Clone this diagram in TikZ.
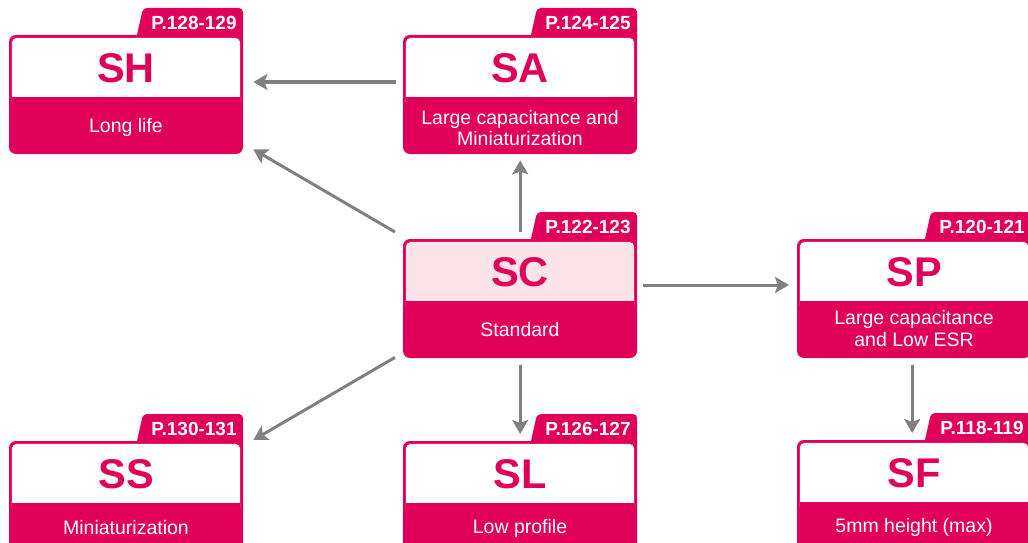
\documentclass[tikz,border=0pt]{standalone}
\usepackage{fontspec}
\setmainfont{Liberation Sans}
\usetikzlibrary{calc,arrows.meta}
\definecolor{mag}{RGB}{224,0,90}
\definecolor{pinkfill}{RGB}{252,228,234}
\definecolor{arrgray}{RGB}{128,128,128}
\newcommand\mystrut{\rule[-3pt]{0pt}{20pt}}
% #1 name, #2 X, #3 Y, #4 H, #5 title, #6 subtitle, #7 page, #8 fill, #9 subtitle shift
\newcommand\prodbox[9]{%
  \node[boxnode, minimum height=#4pt, anchor=north west] (#1) at (#2,#3) {};
  \fill[mag, rounded corners=4pt] (#2+125.8,#3+10) -- (#2+134,#3-27) -- (#2+234,#3-27) -- (#2+234,#3+12) -- cycle;
  \fill[mag, rounded corners=7pt] (#2,#3) rectangle (#2+234,#3+#4);
  \fill[#8, rounded corners=5pt] (#2+2.8,#3+2.8) rectangle (#2+231.2,#3+72);
  \fill[mag] (#2+2.8,#3+62) rectangle (#2+231.2,#3+76);
  \node[titletext] (#1-t) at (#2+117,#3+47) {#5};
  \node[subtext] (#1-s) at (#2+117,#3+31+#4/2+#9) {#6};
  \node[pagetext] (#1-p) at (#2+185,#3-12.5) {#7};
}
\begin{document}
\begin{tikzpicture}[x=1pt,y=-1pt,
  boxnode/.style={rectangle, minimum width=234pt, inner sep=0pt, draw=none},
  titletext/.style={anchor=base, inner sep=0pt, text=mag, font=\fontsize{41.5}{41.5}\selectfont\bfseries},
  subtext/.style={anchor=center, inner sep=0pt, text=white, align=center, font=\fontsize{19.5}{21.5}\selectfont},
  pagetext/.style={anchor=center, inner sep=0pt, text=white, font=\fontsize{19}{20}\selectfont\bfseries},
  arr/.style={draw=arrgray, line width=3pt, -{Stealth[length=14pt,width=16pt,inset=3pt]}}]
\useasboundingbox (0,0) rectangle (1028,543);
\clip (0,0) rectangle (1028,542);
\prodbox{SH}{9}{35}{119}{SH}{\mystrut Long life}{P.128-129}{white}{0.5}
\prodbox{SA}{403}{35}{119}{SA}{\mystrut Large capacitance and\\\mystrut Miniaturization}{P.124-125}{white}{2.5}
\prodbox{SC}{403}{239}{119}{SC}{\mystrut Standard}{P.122-123}{pinkfill}{0}
\prodbox{SP}{797}{239}{119}{SP}{\mystrut Large capacitance\\\mystrut and Low ESR}{P.120-121}{white}{-1}
\prodbox{SS}{9}{441}{110}{SS}{\mystrut Miniaturization}{P.130-131}{white}{0}
\prodbox{SL}{403}{441}{110}{SL}{\mystrut Low profile}{P.126-127}{white}{0}
\prodbox{SF}{797}{440}{110}{SF}{\mystrut 5mm height (max)}{P.118-119}{white}{0}
\draw[arr] ($(SA.north west)+(-7,47)$) -- ($(SH.north east)+(10,47)$);
\draw[arr] ($(SC.north west)+(-8,-7)$) -- ($(SH.south east)+(10,-5)$);
\draw[arr] ($(SC.north)+(0,-7)$) -- ($(SA.south)+(0,6)$);
\draw[arr] ($(SC.north east)+(6,46)$) -- ($(SP.north west)+(-8,46)$);
\draw[arr] ($(SC.south west)+(-8,-1)$) -- ($(SS.north east)+(10,-1)$);
\draw[arr] ($(SC.south)+(0,7)$) -- ($(SL.north)+(0,-7)$);
\draw[arr] ($(SP.south)+(-2,7)$) -- ($(SF.north)+(-2,-7)$);
\end{tikzpicture}
\end{document}
